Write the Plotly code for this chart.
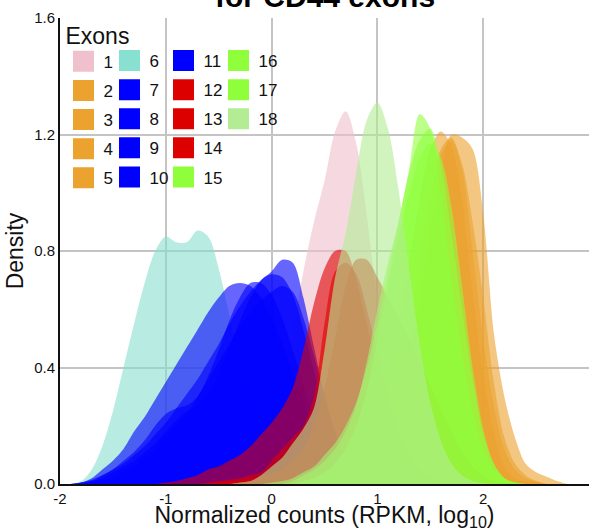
import numpy as np
import plotly.graph_objects as go

# x grid (log10 RPKM) at which densities were read
X = np.round(np.linspace(-2.0, 3.0, 51), 2)

EXON_NAMES = [str(i) for i in range(1, 19)]

EXON_1 = [0, 0, 0, 0, 0, 0, 0, 0, 0, 0, 0, 0, 0, 0,
          0.005, 0.01, 0.02, 0.04, 0.07, 0.12, 0.2, 0.33, 0.52, 0.73, 0.9, 1.04, 1.21, 1.28,
          1.17, 0.92, 0.62, 0.36, 0.18, 0.08, 0.03, 0.01, 0.004,
          0, 0, 0, 0, 0, 0, 0, 0, 0, 0, 0, 0, 0, 0]
EXON_2 = [0, 0, 0, 0, 0, 0, 0, 0, 0, 0, 0, 0, 0, 0, 0, 0, 0, 0, 0, 0, 0, 0, 0,
          0.005, 0.01, 0.02, 0.04, 0.07, 0.11, 0.17, 0.26, 0.38, 0.55, 0.77, 0.98, 1.15, 1.21,
          1.16, 0.98, 0.66, 0.38, 0.18, 0.06, 0.02, 0.01, 0.005,
          0, 0, 0, 0, 0]
EXON_3 = [0, 0, 0, 0, 0, 0, 0, 0, 0, 0, 0, 0, 0, 0, 0, 0, 0, 0, 0, 0, 0, 0, 0, 0,
          0.005, 0.01, 0.02, 0.04, 0.07, 0.11, 0.17, 0.26, 0.39, 0.56, 0.77, 0.98, 1.15, 1.19,
          1.08, 0.8, 0.5, 0.27, 0.12, 0.05, 0.02, 0.01,
          0, 0, 0, 0, 0]
EXON_4 = [0, 0, 0, 0, 0, 0, 0, 0, 0, 0, 0, 0, 0, 0, 0, 0, 0, 0, 0, 0, 0, 0, 0, 0, 0,
          0.005, 0.01, 0.02, 0.04, 0.07, 0.11, 0.17, 0.27, 0.42, 0.62, 0.85, 1.07, 1.2, 1.19,
          1.15, 0.93, 0.52, 0.3, 0.16, 0.07, 0.04, 0.025, 0.01,
          0, 0, 0]
EXON_5 = [0, 0, 0, 0, 0, 0, 0, 0, 0, 0, 0, 0, 0, 0, 0, 0, 0, 0, 0, 0, 0, 0, 0, 0,
          0.005, 0.01, 0.02, 0.03, 0.05, 0.09, 0.14, 0.22, 0.34, 0.5, 0.72, 0.95, 1.13, 1.18,
          1.1, 0.9, 0.64, 0.35, 0.16, 0.07, 0.03, 0.01,
          0, 0, 0, 0, 0]
EXON_6 = [0, 0, 0.01, 0.05, 0.13, 0.25, 0.4, 0.55, 0.69, 0.8, 0.85, 0.83, 0.83, 0.87,
          0.85, 0.74, 0.58, 0.42, 0.28, 0.17, 0.09, 0.04, 0.02, 0.01,
          0, 0, 0, 0, 0, 0, 0, 0, 0, 0, 0, 0, 0, 0, 0, 0, 0, 0, 0, 0, 0, 0, 0, 0, 0, 0, 0]
EXON_7 = [0, 0, 0.005, 0.02, 0.05, 0.08, 0.12, 0.18, 0.23, 0.29, 0.35, 0.41, 0.47, 0.53,
          0.59, 0.64, 0.68, 0.69, 0.68, 0.64, 0.57, 0.48, 0.38, 0.28, 0.19, 0.11, 0.06, 0.03, 0.01,
          0, 0, 0, 0, 0, 0, 0, 0, 0, 0, 0, 0, 0, 0, 0, 0, 0, 0, 0, 0, 0, 0]
EXON_8 = [0, 0, 0.005, 0.01, 0.03, 0.05, 0.08, 0.11, 0.15, 0.2, 0.24, 0.26, 0.27, 0.3,
          0.37, 0.46, 0.56, 0.64, 0.69, 0.69, 0.65, 0.57, 0.46, 0.34, 0.23, 0.14, 0.07, 0.03, 0.01,
          0, 0, 0, 0, 0, 0, 0, 0, 0, 0, 0, 0, 0, 0, 0, 0, 0, 0, 0, 0, 0, 0]
EXON_9 = [0, 0, 0, 0.01, 0.02, 0.04, 0.06, 0.08, 0.11, 0.14, 0.18, 0.22, 0.25, 0.27,
          0.31, 0.38, 0.47, 0.56, 0.64, 0.7, 0.73, 0.77, 0.76, 0.64, 0.47, 0.31, 0.18, 0.09, 0.04, 0.015,
          0, 0, 0, 0, 0, 0, 0, 0, 0, 0, 0, 0, 0, 0, 0, 0, 0, 0, 0, 0, 0]
EXON_10 = [0, 0, 0.005, 0.015, 0.03, 0.05, 0.07, 0.1, 0.13, 0.17, 0.21, 0.26, 0.31, 0.36,
           0.42, 0.48, 0.55, 0.61, 0.66, 0.7, 0.72, 0.71, 0.65, 0.53, 0.39, 0.26, 0.15, 0.08, 0.03, 0.01,
           0, 0, 0, 0, 0, 0, 0, 0, 0, 0, 0, 0, 0, 0, 0, 0, 0, 0, 0, 0, 0]
EXON_11 = [0, 0, 0, 0.005, 0.01, 0.02, 0.04, 0.06, 0.09, 0.12, 0.16, 0.2, 0.24, 0.3,
           0.36, 0.42, 0.48, 0.54, 0.59, 0.63, 0.66, 0.68, 0.66, 0.57, 0.44, 0.3, 0.18, 0.09, 0.04, 0.015,
           0, 0, 0, 0, 0, 0, 0, 0, 0, 0, 0, 0, 0, 0, 0, 0, 0, 0, 0, 0, 0]
EXON_12 = [0, 0, 0, 0, 0, 0, 0, 0, 0, 0,
           0.005, 0.01, 0.02, 0.03, 0.05, 0.06, 0.08, 0.1, 0.13, 0.17, 0.21, 0.26, 0.33, 0.46,
           0.62, 0.74, 0.8, 0.8, 0.7, 0.55, 0.4, 0.27, 0.17, 0.1, 0.05, 0.02, 0.01,
           0, 0, 0, 0, 0, 0, 0, 0, 0, 0, 0, 0, 0, 0]
EXON_13 = [0, 0, 0, 0, 0, 0, 0, 0, 0, 0, 0, 0, 0, 0,
           0.005, 0.01, 0.015, 0.02, 0.03, 0.04, 0.08, 0.12, 0.16, 0.2, 0.3, 0.55, 0.73, 0.76,
           0.72, 0.6, 0.45, 0.3, 0.19, 0.1, 0.05, 0.02, 0.01,
           0, 0, 0, 0, 0, 0, 0, 0, 0, 0, 0, 0, 0, 0]
EXON_14 = [0, 0, 0, 0, 0, 0, 0, 0, 0, 0, 0, 0, 0, 0, 0,
           0.005, 0.008, 0.012, 0.018, 0.025, 0.035, 0.05, 0.08, 0.12, 0.2, 0.33, 0.5, 0.68,
           0.77, 0.77, 0.71, 0.64, 0.57, 0.5, 0.42, 0.34, 0.26, 0.18, 0.11, 0.06, 0.03, 0.01, 0.003,
           0, 0, 0, 0, 0, 0, 0, 0]
EXON_15 = [0, 0, 0, 0, 0, 0, 0, 0, 0, 0, 0, 0, 0, 0, 0, 0, 0, 0, 0, 0, 0, 0, 0,
           0.01, 0.02, 0.04, 0.07, 0.12, 0.2, 0.32, 0.5, 0.68, 0.85, 1.0, 1.12, 1.17,
           1.12, 0.95, 0.68, 0.4, 0.19, 0.07, 0.02, 0.005,
           0, 0, 0, 0, 0, 0, 0]
EXON_16 = [0, 0, 0, 0, 0, 0, 0, 0, 0, 0, 0, 0, 0, 0, 0, 0, 0, 0, 0, 0, 0, 0,
           0.01, 0.03, 0.05, 0.08, 0.12, 0.18, 0.27, 0.42, 0.6, 0.76, 0.9, 1.08, 1.27, 1.22,
           1.0, 0.7, 0.45, 0.25, 0.12, 0.05, 0.02, 0.005,
           0, 0, 0, 0, 0, 0, 0]
EXON_17 = [0, 0, 0, 0, 0, 0, 0, 0, 0, 0, 0, 0, 0, 0, 0, 0, 0, 0, 0, 0,
           0.005, 0.01, 0.02, 0.04, 0.06, 0.1, 0.14, 0.2, 0.28, 0.4, 0.55, 0.72, 0.9, 1.07,
           1.18, 1.22, 1.1, 0.86, 0.6, 0.36, 0.17, 0.07, 0.02, 0.005,
           0, 0, 0, 0, 0, 0, 0]
EXON_18 = [0, 0, 0, 0, 0, 0, 0, 0, 0, 0, 0, 0, 0, 0, 0, 0, 0,
           0.005, 0.01, 0.03, 0.06, 0.09, 0.14, 0.19, 0.26, 0.46, 0.71, 0.86, 1.07, 1.25, 1.31,
           1.22, 1.01, 0.74, 0.48, 0.28, 0.15, 0.07, 0.03, 0.01, 0.003,
           0, 0, 0, 0, 0, 0, 0, 0, 0, 0]

SERIES = [EXON_1, EXON_2, EXON_3, EXON_4, EXON_5, EXON_6, EXON_7, EXON_8, EXON_9,
          EXON_10, EXON_11, EXON_12, EXON_13, EXON_14, EXON_15, EXON_16, EXON_17, EXON_18]

PINK, ORANGE, TURQ = (240, 192, 204), (235, 162, 46), (136, 224, 208)
BLUE, RED, GREEN, LGREEN = (0, 0, 255), (221, 0, 0), (143, 255, 60), (179, 236, 148)
COLORS = [PINK, ORANGE, ORANGE, ORANGE, ORANGE, TURQ, BLUE, BLUE, BLUE, BLUE, BLUE,
          RED, RED, RED, GREEN, GREEN, GREEN, LGREEN]
ALPHA = 0.6

X_TICKS = [-2, -1, 0, 1, 2, 3]
Y_TICKS = [0.0, 0.4, 0.8, 1.2, 1.6]
Y_TICK_TEXT = ["0.0", "0.4", "0.8", "1.2", "1.6"]

FONT = "Liberation Sans, Arial, Helvetica, sans-serif"

fig = go.Figure()
for name, ys, c in zip(EXON_NAMES, SERIES, COLORS):
    fig.add_trace(go.Scatter(
        x=X, y=ys, mode="lines", line=dict(width=0, shape="spline", smoothing=0.9),
        fill="tozeroy", fillcolor=f"rgba({c[0]},{c[1]},{c[2]},{ALPHA})",
        showlegend=False, hoverinfo="skip"))

# legend entries, four columns
columns = [(0, 5, "legend"), (5, 10, "legend2"), (10, 15, "legend3"), (15, 18, "legend4")]
for a, b, lg in columns:
    for k in range(a, b):
        c = COLORS[k]
        col = f"rgb({c[0]},{c[1]},{c[2]})"
        fig.add_trace(go.Scatter(
            x=[None], y=[None], mode="markers", name=EXON_NAMES[k],
            marker=dict(symbol="square", size=16, color=col, line=dict(color=col, width=5)),
            legend=lg, legendgroup=EXON_NAMES[k], showlegend=True))

leg_common = dict(bgcolor="rgba(0,0,0,0)", font=dict(family=FONT, size=17, color="#111"),
                  traceorder="grouped", tracegroupgap=4, xanchor="left", yanchor="top",
                  itemclick=False, itemdoubleclick=False)

fig.update_layout(
    width=592, height=531,
    margin=dict(l=60, r=3, t=18, b=47, autoexpand=False),
    paper_bgcolor="white", plot_bgcolor="white",
    font=dict(family=FONT, color="#111"),
    xaxis=dict(range=[-2, 3], tickvals=X_TICKS, ticktext=[str(v) for v in X_TICKS],
               showgrid=True, gridcolor="#c4c4c4", gridwidth=2, zeroline=False,
               showline=True, linecolor="#111", linewidth=2, ticks="", automargin=False,
               tickfont=dict(size=15, color="#111"),
               title=dict(text="Normalized counts (RPKM, log<sub>10</sub>)",
                          font=dict(size=23, color="#111"), standoff=2)),
    yaxis=dict(range=[0, 1.6], tickvals=Y_TICKS, ticktext=Y_TICK_TEXT,
               showgrid=True, gridcolor="#c4c4c4", gridwidth=2, zeroline=False,
               showline=True, linecolor="#111", linewidth=2, ticks="", automargin=False,
               tickfont=dict(size=15, color="#111"),
               title=dict(text="Density", font=dict(size=23, color="#111"), standoff=4)),
    legend=dict(x=0.0066, y=1.0088, title=dict(text="Exons", font=dict(size=23)), **leg_common),
    legend2=dict(x=0.0936, y=0.9464, **leg_common),
    legend3=dict(x=0.1957, y=0.9464, **leg_common),
    legend4=dict(x=0.2996, y=0.9464, **leg_common),
    shapes=[dict(type="rect", xref="paper", yref="paper", x0=0.0, x1=0.425, y0=0.62, y1=1.0,
                 fillcolor="white", line=dict(width=0), layer="between")],
    annotations=[dict(text="<b>for CD44 exons</b>", xref="paper", yref="paper", x=0.5, y=1.0058,
                      xanchor="center", yanchor="bottom", showarrow=False,
                      font=dict(size=30, color="#000"))],
)

fig.write_html("out.html", config={"displayModeBar": False},
               post_script="document.body.style.margin='0';document.body.style.padding='0';"
                           "document.body.style.overflow='hidden';")
